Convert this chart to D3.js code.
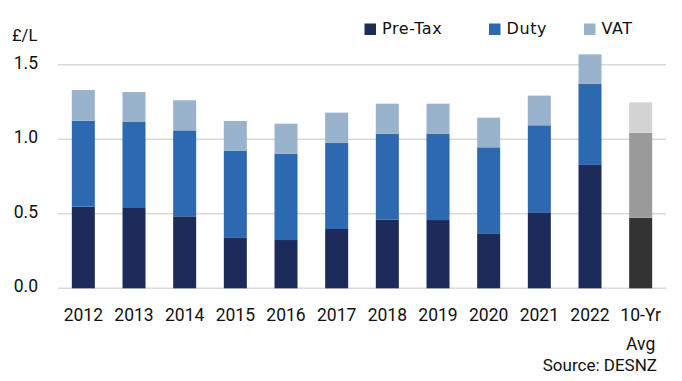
<!DOCTYPE html>
<html>

<head>
    <meta charset="utf-8">
    <title>Fuel price breakdown</title>
    <script src="https://d3js.org/d3.v7.min.js"></script>
    <style>
        body { margin: 0; background: #fff; }
        text { font-family: Roboto, "Liberation Sans", sans-serif; fill: #111; }
    </style>
</head>

<body>
    <script>
        // data, £ per litre
        var years = ["2012", "2013", "2014", "2015", "2016", "2017", "2018", "2019", "2020", "2021", "2022", "10-Yr Avg"];
        var preTax = [0.548, 0.539, 0.483, 0.342, 0.324, 0.398, 0.461, 0.458, 0.369, 0.510, 0.828, 0.474];
        var duty   = [0.577, 0.577, 0.577, 0.582, 0.580, 0.577, 0.577, 0.578, 0.577, 0.584, 0.543, 0.570];
        var vat    = [0.206, 0.201, 0.202, 0.199, 0.201, 0.204, 0.201, 0.203, 0.199, 0.199, 0.199, 0.204];
        var seriesNames = ["Pre-Tax", "Duty", "VAT"];
        var yTicks = [0, 0.5, 1.0, 1.5];

        var colors = ["#1c2b5a", "#2d69b0", "#98b3cb"];
        var avgColors = ["#333333", "#9a9a9a", "#d3d3d3"];

        var w = 682, h = 381;

        var svg = d3.select("body").append("svg")
            .attr("width", w)
            .attr("height", h);

        var x = d3.scaleBand()
            .domain(years)
            .range([58, 666])
            .paddingInner(0.546)
            .paddingOuter(0.273);

        var y = d3.scaleLinear()
            .domain([0, 1.5])
            .range([288.3, 64.8]);

        // gridlines
        svg.append("g").selectAll("line")
            .data(yTicks)
            .enter().append("line")
            .attr("x1", 58)
            .attr("x2", 666)
            .attr("y1", function(d) { return y(d); })
            .attr("y2", function(d) { return y(d); })
            .attr("stroke", "#d9d9d9")
            .attr("stroke-width", 1.5);

        // y axis labels
        var yAxis = d3.axisLeft(y).tickValues(yTicks).tickFormat(d3.format(".1f")).tickSize(0).tickPadding(0);
        svg.append("g")
            .attr("transform", "translate(38,0)")
            .call(yAxis)
            .call(function(g) { g.select(".domain").remove(); })
            .selectAll("text")
            .attr("font-size", 17.5)
            .attr("dy", "0.2em")
            .style("font-family", "Roboto, sans-serif")
            .attr("fill", "#111");

        svg.append("text")
            .attr("x", 12)
            .attr("y", 40.5)
            .attr("font-size", 16.5)
            .text("£/L");

        // stacked bars
        var rows = years.map(function(yr, i) {
            return { year: yr, "Pre-Tax": preTax[i], "Duty": duty[i], "VAT": vat[i] };
        });
        var stacked = d3.stack().keys(seriesNames)(rows);

        svg.append("g").selectAll("g")
            .data(stacked)
            .enter().append("g")
            .each(function(s, si) {
                d3.select(this).selectAll("rect")
                    .data(s)
                    .enter().append("rect")
                    .attr("x", function(d) { return x(d.data.year); })
                    .attr("width", x.bandwidth())
                    .attr("y", function(d) { return y(d[1]); })
                    .attr("height", function(d) { return y(d[0]) - y(d[1]); })
                    .attr("fill", function(d) {
                        return d.data.year == "10-Yr Avg" ? avgColors[si] : colors[si];
                    });
            });

        // x axis labels
        var xAxis = d3.axisBottom(x).tickSize(0).tickPadding(0);
        var xg = svg.append("g")
            .attr("transform", "translate(0,308)")
            .call(xAxis);
        xg.select(".domain").remove();
        xg.selectAll("text").remove();
        xg.selectAll(".tick").append("text")
            .attr("text-anchor", "middle")
            .attr("font-size", 17.5)
            .each(function(d) {
                var parts = d.split(" ");
                if (d == "10-Yr Avg") parts = ["10-Yr", "Avg"];
                var t = d3.select(this);
                parts.forEach(function(p, k) {
                    t.append("tspan")
                        .attr("x", 0)
                        .attr("y", 13 + k * 29)
                        .text(p);
                });
            });

        // legend
        var legX = [364.5, 489, 584];
        var leg = svg.append("g").selectAll("g")
            .data(seriesNames)
            .enter().append("g")
            .attr("transform", function(d, i) { return "translate(" + legX[i] + ",0)"; });
        leg.append("rect")
            .attr("x", 0)
            .attr("y", 23.5)
            .attr("width", 11.5)
            .attr("height", 11.5)
            .attr("fill", function(d, i) { return colors[i]; });
        leg.append("text")
            .attr("x", 17.5)
            .attr("y", 34)
            .attr("font-size", 16)
            .attr("letter-spacing", 0.6)
            .style("font-family", "'DejaVu Sans', sans-serif")
            .text(function(d) { return d; });

        svg.append("text")
            .attr("x", 657)
            .attr("y", 371)
            .attr("text-anchor", "end")
            .attr("font-size", 17)
            .text("Source: DESNZ");
    </script>
</body>

</html>
